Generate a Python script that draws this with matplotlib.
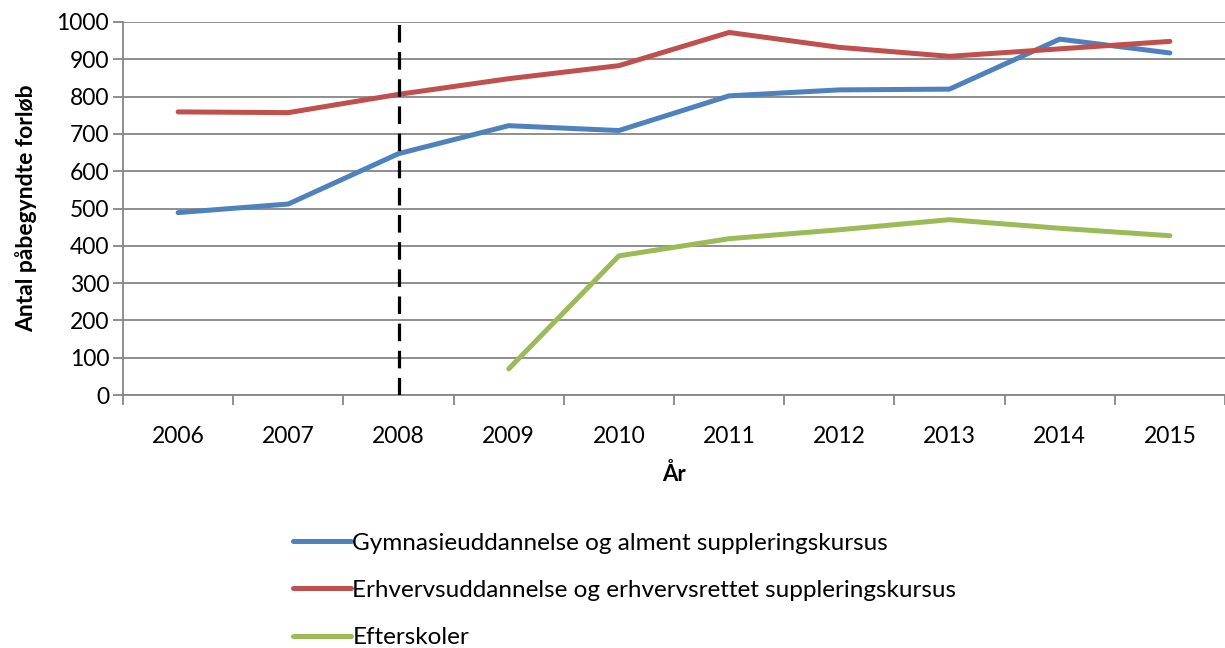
import numpy as np
import matplotlib.pyplot as plt
from matplotlib.ticker import FixedLocator

years = ["2006", "2007", "2008", "2009", "2010", "2011", "2012", "2013", "2014", "2015"]
gymnasie = [489, 512, 647, 722, 709, 802, 818, 820, 954, 917]
erhverv = [759, 757, 806, 848, 883, 972, 932, 908, 928, 948]
efterskoler = [np.nan, np.nan, np.nan, 70, 373, 419, 443, 470, 447, 427]
labels = [
    "Gymnasieuddannelse og alment suppleringskursus",
    "Erhvervsuddannelse og erhvervsrettet suppleringskursus",
    "Efterskoler",
]
colors = ["#4F81BD", "#C0504D", "#9BBB59"]
marker_year = "2008"

plt.rcParams["font.family"] = ["Lato", "DejaVu Sans"]
grey = "#868686"

fig = plt.figure(figsize=(12.25, 6.48), dpi=100)
ax = fig.add_axes([123 / 1225, 1 - 395 / 648, 1 - 123 / 1225, (395 - 22) / 648])

x = np.arange(len(years))
lines = []
for series, color, label in zip([gymnasie, erhverv, efterskoler], colors, labels):
    (ln,) = ax.plot(x, series, color=color, lw=3.6, solid_capstyle="round",
                    solid_joinstyle="round", label=label, zorder=3)
    lines.append(ln)

ax.axvline(years.index(marker_year), color="black", lw=2.3, dashes=(5.5, 3), zorder=4)

ax.set_xlim(-0.5, len(years) - 0.5)
ax.set_ylim(0, 1000)
ax.set_yticks(np.arange(0, 1001, 100))
ax.set_xticks(x)
ax.set_xticklabels(years)
ax.xaxis.set_minor_locator(FixedLocator(np.arange(-0.5, len(years), 1.0)))
ax.tick_params(axis="x", which="major", length=0, pad=22, labelsize=16.5)
ax.tick_params(axis="x", which="minor", length=7, width=1.3, color=grey, direction="out")
ax.tick_params(axis="y", length=7, width=1.3, color=grey, labelsize=16.5, pad=3)

ax.grid(axis="y", color=grey, lw=1.3, zorder=0)
for side in ["top", "right"]:
    ax.spines[side].set_visible(False)
for side in ["left", "bottom"]:
    ax.spines[side].set_color(grey)
    ax.spines[side].set_linewidth(1.3)

ax.set_ylabel("Antal påbegyndte forløb", fontsize=16.5, fontweight="bold", labelpad=14)
ax.set_xlabel("År", fontsize=16, fontweight="bold", labelpad=12)

fig.legend(handles=lines, loc="upper left", bbox_to_anchor=(283 / 1225, 1 - 523 / 648),
           frameon=False, fontsize=17.5, handlelength=2.4, handletextpad=0.05,
           labelspacing=1.08, borderaxespad=0)

fig.savefig("out.png", dpi=100)
